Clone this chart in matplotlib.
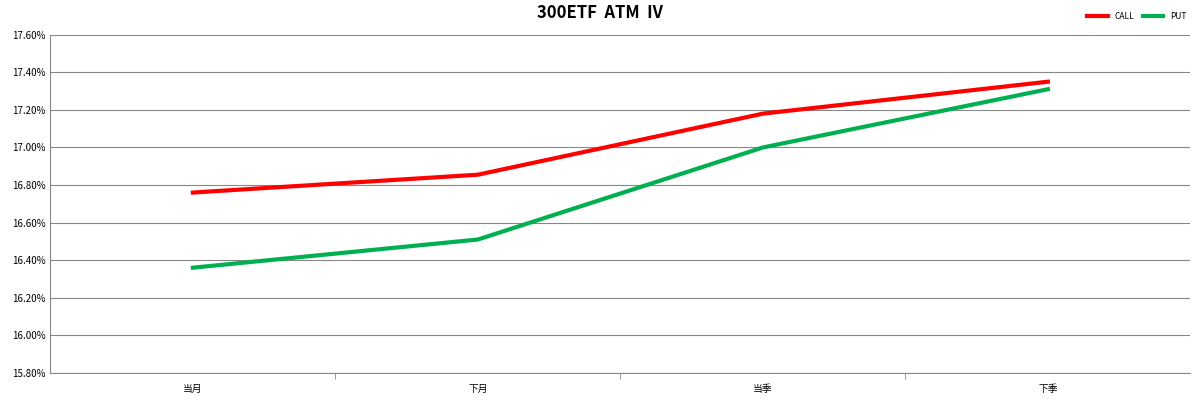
import matplotlib.pyplot as plt
from matplotlib.ticker import FuncFormatter

plt.rcParams['font.family'] = ['Noto Sans CJK SC', 'DejaVu Sans']

categories = ["当月", "下月", "当季", "下季"]
call_iv = [16.76, 16.855, 17.18, 17.35]
put_iv = [16.36, 16.51, 17.00, 17.31]

fig = plt.figure(figsize=(12, 4.04), dpi=100)
ax = fig.add_axes([0.042, 0.077, 0.95, 0.837])

x = range(len(categories))
ax.plot(x, call_iv, color="#ff0000", lw=3, label="CALL")
ax.plot(x, put_iv, color="#00b050", lw=3, label="PUT")

ax.set_xlim(-0.5, len(categories) - 0.5)
ax.set_ylim(15.8, 17.6)
ax.set_yticks([15.8 + 0.2 * i for i in range(10)])
ax.yaxis.set_major_formatter(FuncFormatter(lambda v, p: f"{v:.2f}%"))
ax.set_xticks(list(x))
ax.set_xticklabels(categories)
ax.set_xticks([i + 0.5 for i in range(len(categories) - 1)], minor=True)
ax.tick_params(axis="x", which="major", length=0, labelsize=7, pad=8)
ax.tick_params(axis="x", which="minor", length=4, color="#888888")
ax.tick_params(axis="y", labelsize=7, length=0)
ax.grid(axis="y", color="#888888", lw=0.8)
for s in ["top", "right"]:
    ax.spines[s].set_visible(False)
ax.spines["left"].set_color("#888888")
ax.spines["bottom"].set_color("#888888")

fig.suptitle("300ETF  ATM  IV", fontsize=12, fontweight="bold", y=0.99)
fig.legend(loc="upper right", bbox_to_anchor=(0.995, 0.99), ncol=2, frameon=False,
           fontsize=6, handlelength=2.5, columnspacing=1)

fig.savefig("out.png")
